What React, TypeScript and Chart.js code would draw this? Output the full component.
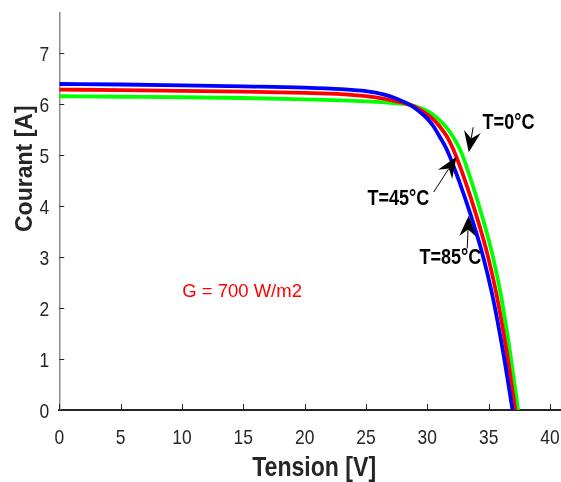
import React, { useEffect, useRef } from 'react';
import { Chart, registerables } from 'chart.js';
Chart.register(...registerables);

// T = 85°C (blue)
const tension85 = [0, 5, 10, 15, 20, 23, 25, 26.5, 27.5, 28.6, 29.3, 30, 30.5, 31, 31.6, 32.6, 33.55, 34.5, 35.3, 36.15, 36.95];
const courant85 = [6.40, 6.39, 6.375, 6.355, 6.33, 6.30, 6.26, 6.19, 6.11, 5.99, 5.87, 5.72, 5.57, 5.37, 5.11, 4.49, 3.82, 3.06, 2.26, 1.18, 0];
// T = 45°C (red)
const tension45 = [0, 5, 10, 15, 20, 23, 25, 26.5, 27.5, 28.6, 29.3, 30, 30.5, 31, 31.6, 32.15, 33.1, 34.0, 34.9, 35.65, 36.45, 37.17];
const courant45 = [6.29, 6.28, 6.265, 6.25, 6.225, 6.20, 6.16, 6.11, 6.06, 5.99, 5.91, 5.80, 5.70, 5.57, 5.37, 5.10, 4.49, 3.82, 3.06, 2.26, 1.18, 0];
// T = 0°C (green)
const tension0 = [0, 5, 10, 15, 20, 23, 25, 26.5, 27.5, 28.6, 29.3, 30, 30.5, 31, 31.6, 32.1, 32.7, 33.6, 34.45, 35.3, 36.0, 36.72, 37.4];
const courant0 = [6.16, 6.15, 6.14, 6.125, 6.10, 6.08, 6.06, 6.04, 6.02, 5.99, 5.94, 5.87, 5.79, 5.69, 5.54, 5.36, 5.10, 4.49, 3.82, 3.06, 2.26, 1.18, 0];

const xTicks = [0, 5, 10, 15, 20, 25, 30, 35, 40];
const yTicks = [0, 1, 2, 3, 4, 5, 6, 7];
const xTitle = 'Tension [V]';
const yTitle = 'Courant [A]';

const annLabels = ['T=0°C', 'T=45°C', 'T=85°C'];
const annTextPos = [[36.62, 5.63], [27.64, 4.14], [31.88, 2.98]];
const annTail = [[33.74, 5.55], [30.52, 4.28], [33.25, 3.17]];
const annTip = [[33.38, 5.06], [32.38, 4.97], [33.38, 3.82]];

const irradianceLabel = 'G = 700 W/m2';
const irradiancePos = [14.9, 2.31];

const SANS = '"Liberation Sans", Arial, sans-serif';
const TXT = '#262626';

function pts(xs: number[], ys: number[]) {
  return xs.map((x, i) => ({ x, y: ys[i] }));
}

// draw text compressed along its direction (condensed look)
function condText(ctx: any, text: string, x: number, y: number, font: string, sx: number, align: string, baseline: string, rot = 0) {
  ctx.save();
  ctx.translate(x, y);
  if (rot) ctx.rotate(rot);
  ctx.scale(sx, 1);
  ctx.font = font;
  ctx.textAlign = align;
  ctx.textBaseline = baseline;
  ctx.fillText(text, 0, 0);
  ctx.restore();
}

const overlayPlugin = {
  id: 'overlay',
  afterDraw(chart: any) {
    const { ctx, scales, chartArea } = chart;
    const xs = scales.x;
    const ys = scales.y;
    ctx.save();
    // inward ticks
    ctx.strokeStyle = TXT;
    ctx.lineWidth = 1;
    xTicks.forEach((t) => {
      const px = Math.round(xs.getPixelForValue(t)) + 0.5;
      ctx.beginPath();
      ctx.moveTo(px, chartArea.bottom);
      ctx.lineTo(px, chartArea.bottom - 6);
      ctx.stroke();
    });
    yTicks.forEach((t) => {
      const py = Math.round(ys.getPixelForValue(t)) + 0.5;
      ctx.beginPath();
      ctx.moveTo(chartArea.left, py);
      ctx.lineTo(chartArea.left + 5, py);
      ctx.stroke();
    });
    // tick labels
    ctx.fillStyle = TXT;
    xTicks.forEach((t) => {
      condText(ctx, String(t), xs.getPixelForValue(t), chartArea.bottom + 34, `21px ${SANS}`, 0.83, 'center', 'alphabetic');
    });
    yTicks.forEach((t) => {
      condText(ctx, String(t), chartArea.left - 10, ys.getPixelForValue(t) + 7.5, `21px ${SANS}`, 0.83, 'right', 'alphabetic');
    });
    // axis titles
    condText(ctx, xTitle, (chartArea.left + chartArea.right) / 2 + 4, chartArea.bottom + 66, `bold 27px ${SANS}`, 0.855, 'center', 'alphabetic');
    condText(ctx, yTitle, chartArea.left - 27, chartArea.top + 156, `bold 24px ${SANS}`, 0.96, 'center', 'alphabetic', -Math.PI / 2);
    // annotations
    ctx.fillStyle = '#000';
    ctx.strokeStyle = '#000';
    annLabels.forEach((lab, i) => {
      const tx = xs.getPixelForValue(annTextPos[i][0]);
      const ty = ys.getPixelForValue(annTextPos[i][1]);
      condText(ctx, lab, tx, ty, `bold 22px ${SANS}`, 0.82, 'center', 'middle');
      const ax = xs.getPixelForValue(annTail[i][0]);
      const ay = ys.getPixelForValue(annTail[i][1]);
      const bx = xs.getPixelForValue(annTip[i][0]);
      const by = ys.getPixelForValue(annTip[i][1]);
      const ang = Math.atan2(by - ay, bx - ax);
      const L = 21, W = 8.5, notch = 14;
      const c = Math.cos(ang), s = Math.sin(ang);
      ctx.lineWidth = 1;
      ctx.beginPath();
      ctx.moveTo(ax, ay);
      ctx.lineTo(bx - c * notch, by - s * notch);
      ctx.stroke();
      ctx.beginPath();
      ctx.moveTo(bx, by);
      ctx.lineTo(bx - c * L - s * W, by - s * L + c * W);
      ctx.lineTo(bx - c * notch, by - s * notch);
      ctx.lineTo(bx - c * L + s * W, by - s * L - c * W);
      ctx.closePath();
      ctx.fill();
    });
    ctx.fillStyle = '#ff0000';
    ctx.font = `18.5px ${SANS}`;
    ctx.textAlign = 'center';
    ctx.textBaseline = 'middle';
    ctx.fillText(irradianceLabel, xs.getPixelForValue(irradiancePos[0]), ys.getPixelForValue(irradiancePos[1]));
    ctx.restore();
  },
};

export default function App() {
  const ref = useRef<HTMLCanvasElement>(null);
  useEffect(() => {
    if (!ref.current) return;
    const chart = new Chart(ref.current, {
      type: 'line',
      data: {
        datasets: [
          { label: 'T=85°C', data: pts(tension85, courant85), borderColor: '#0000ff', borderWidth: 3.8, pointRadius: 0, cubicInterpolationMode: 'monotone', fill: false },
          { label: 'T=45°C', data: pts(tension45, courant45), borderColor: '#ff0000', borderWidth: 3.8, pointRadius: 0, cubicInterpolationMode: 'monotone', fill: false },
          { label: 'T=0°C', data: pts(tension0, courant0), borderColor: '#00ff00', borderWidth: 3.8, pointRadius: 0, cubicInterpolationMode: 'monotone', fill: false },
        ],
      },
      options: {
        animation: false,
        responsive: false,
        layout: { padding: { left: 0, right: 0, top: 12.7, bottom: 0 } },
        plugins: { legend: { display: false }, tooltip: { enabled: false } },
        scales: {
          x: {
            type: 'linear',
            min: 0,
            max: 40.9,
            afterBuildTicks: (s: any) => { s.ticks = xTicks.map((v) => ({ value: v })); },
            afterFit: (s: any) => { s.height = 72; s.paddingLeft = 0; s.paddingRight = 0; },
            grid: { display: false, drawTicks: false },
            border: { display: true, color: TXT, width: 2 },
            ticks: { display: false },
            title: { display: false },
          },
          y: {
            type: 'linear',
            min: 0,
            max: 7.8,
            afterBuildTicks: (s: any) => { s.ticks = yTicks.map((v) => ({ value: v })); },
            afterFit: (s: any) => { s.width = 59.3; s.paddingTop = 0; s.paddingBottom = 0; },
            grid: { display: false, drawTicks: false },
            border: { display: true, color: '#8c8c8c', width: 1.5 },
            ticks: { display: false },
            title: { display: false },
          },
        },
      },
      plugins: [overlayPlugin],
    } as any);
    return () => chart.destroy();
  }, []);
  return (
    <div style={{ position: 'fixed', left: 0, top: 0, width: 561, height: 482, background: '#fff' }}>
      <canvas ref={ref} width={561} height={482} />
    </div>
  );
}
